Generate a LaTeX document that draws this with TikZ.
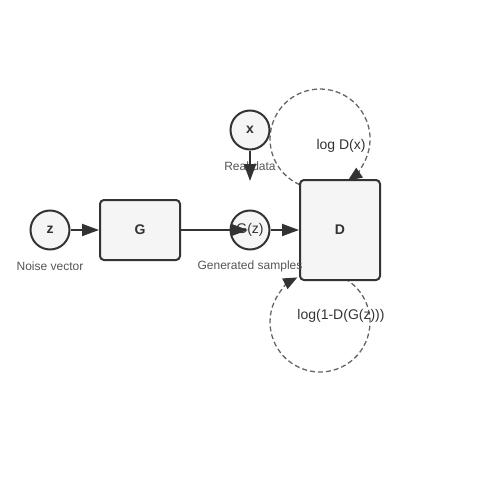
\documentclass[tikz,border=0pt]{standalone}
\usepackage{fontspec}
\setmainfont{Liberation Sans}
\usetikzlibrary{arrows.meta,calc}
\definecolor{edge}{HTML}{333333}
\definecolor{nfill}{HTML}{F5F5F5}
\definecolor{lbl}{HTML}{555555}
\definecolor{dash}{HTML}{666666}
\tikzset{
  circnode/.style={circle,draw=edge,fill=nfill,line width=2pt,minimum size=39pt,inner sep=0pt,font=\fontsize{14}{16}\selectfont\bfseries,text=edge},
  boxnode/.style={rectangle,rounded corners=4pt,draw=edge,fill=nfill,line width=2pt,inner sep=0pt,font=\fontsize{14}{16}\selectfont\bfseries,text=edge},
  sublabel/.style={font=\fontsize{12}{14}\selectfont,text=lbl},
  losslabel/.style={font=\fontsize{14}{16}\selectfont,text=edge},
  flow/.style={draw=edge,line width=2pt,-{Triangle[length=17pt,width=12pt]}},
  lossloop/.style={draw=dash,line width=1.3pt,dash pattern=on 5pt off 3pt,-{Triangle[length=14pt,width=12pt,color=edge,line width=0pt]}}
}
\begin{document}
\begin{tikzpicture}[x=1pt,y=-1pt]
\useasboundingbox (0,0) rectangle (500,500);
% anchors of D, used by the loops drawn beneath it
\coordinate (Dnw) at (300,180);
\coordinate (Dse) at (380,280);
\draw[lossloop] ($(Dnw)+(-0.3,4.7)$) arc[start angle=114,end angle=416,radius=50];
\draw[lossloop] ($(Dse)+(-35,-1.3)$) arc[start angle=-60,end angle=243,radius=50];
% nodes
\node[circnode] (z) at (50,230) {\raisebox{-1.5pt}{z}};
\node[boxnode,minimum width=80pt,minimum height=60pt] (G) at (140,230) {\raisebox{-1.5pt}{G}};
\node[circnode,font=\fontsize{14}{16}\selectfont] (gz) at (250,230) {\raisebox{-1.5pt}{G(z)}};
\node[boxnode,minimum width=80pt,minimum height=100pt] (D) at (340,230) {\raisebox{-1.5pt}{D}};
\node[circnode] (x) at (250,130) {\raisebox{-1.5pt}{x}};
\coordinate (xend) at (250,181);
% labels
\node[sublabel] (lz) at (50,266) {Noise vector};
\node[sublabel] (lgz) at (250,266) {Generated samples};
\node[sublabel] (lx) at (250,166) {Real data};
\node[losslabel] (lr) at (341,146) {log D(x)};
\node[losslabel] (lf) at (341,316) {log(1-D(G(z)))};
% arrows
\draw[flow] (z) -- (G);
\draw[flow] (G.east) -- ($(gz.center)+(-2,0)$);
\draw[flow] (gz) -- (D);
\draw[flow] (x) -- (xend);
\end{tikzpicture}
\end{document}
